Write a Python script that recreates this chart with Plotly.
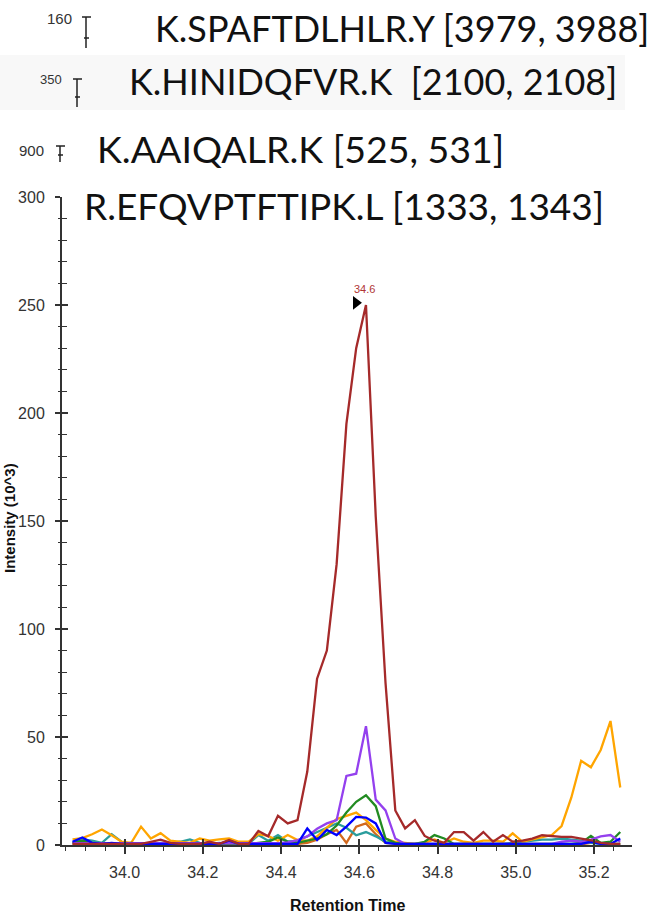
import plotly.graph_objects as go

# Retention times (min) shared by all transitions
rt = [33.867, 33.892, 33.917, 33.942, 33.967, 33.992, 34.017, 34.042, 34.067, 34.092,
      34.117, 34.142, 34.167, 34.192, 34.217, 34.242, 34.267, 34.292, 34.317, 34.342,
      34.367, 34.392, 34.417, 34.442, 34.467, 34.492, 34.517, 34.542, 34.567, 34.592,
      34.617, 34.642, 34.667, 34.692, 34.717, 34.742, 34.767, 34.792, 34.817, 34.842,
      34.867, 34.892, 34.917, 34.942, 34.967, 34.992, 35.017, 35.042, 35.067, 35.092,
      35.117, 35.142, 35.167, 35.192, 35.217, 35.242, 35.267]

# Transition intensities (10^3)
brown = [0.5, 0.5, 0.5, 0.5, 0.5, 0.5, 0.5, 0.5, 1.5, 2.5,
         1, 0.5, 0.5, 0.5, 1.5, 0.5, 2.3, 0.5, 0.5, 6.5,
         4, 13.5, 10, 11.5, 34, 77, 90, 130, 195, 230,
         250, 152, 75, 16, 7.7, 11.5, 4.2, 2, 1, 6,
         6, 2, 6, 1.5, 4.6, 1.5, 2, 3, 4.5, 4,
         3.8, 3.8, 3, 2.2, 1, 0.5, 0.5]
orange = [2.6, 3.2, 5, 7.2, 4.5, 1.5, 1, 8.5, 3, 5.5,
          2, 1.5, 1, 3, 2, 2.6, 3, 1.5, 1.5, 5,
          4.2, 2, 4.6, 2.3, 2, 4, 8, 12, 13.5, 15,
          11.5, 7, 3, 1.5, 1, 0.5, 1, 2.6, 1, 3,
          1.5, 1, 2, 2, 1.5, 5.4, 1.5, 2.6, 3.5, 4.6,
          8.8, 22, 39, 36, 44, 57.4, 26.6]
green = [1, 2, 1, 0.5, 0.5, 0.5, 1, 0.5, 0.5, 0.5,
         0.5, 0.5, 0.5, 0.5, 0.5, 0.5, 0.5, 0.5, 0.5, 1,
         1.5, 3.5, 1.5, 1, 2, 3, 5, 9, 15, 20,
         23, 18, 3, 1, 0.5, 0.5, 1.5, 4.6, 3, 0.5,
         0.5, 0.5, 0.5, 0.5, 0.5, 0.5, 0.5, 0.5, 0.5, 0.5,
         0.5, 0.5, 1, 4.2, 1, 1.5, 6]
teal = [1, 2.6, 2, 1, 5, 1.5, 0.5, 0.5, 0.5, 1,
        1, 1.5, 2.6, 1, 0.5, 1, 0.5, 0.5, 0.5, 4.6,
        2, 4.6, 1.5, 2, 4, 6, 8, 10, 8, 4.5,
        6, 4, 1.5, 1, 0.5, 0.5, 0.5, 0.5, 0.5, 0.5,
        0.5, 0.5, 0.5, 0.5, 0.5, 1, 1.5, 2, 2.5, 2.5,
        3, 2.5, 2, 1, 0.5, 0.5, 0.5]
chocolate = [0.3, 0.3, 0.3, 0.3, 0.3, 0.3, 0.3, 0.3, 0.3, 0.3,
             0.3, 0.3, 0.3, 0.3, 0.3, 0.3, 0.3, 0.3, 0.3, 0.3,
             0.3, 0.3, 0.3, 0.5, 1, 2.5, 5, 7, 1, 8.5,
             10, 5, 1, 0.5, 0.3, 0.3, 0.3, 0.3, 0.3, 0.3,
             0.3, 0.3, 0.3, 0.3, 0.3, 0.3, 0.3, 0.3, 0.3, 0.3,
             0.3, 0.3, 0.3, 1, 1, 0.5, 0.5]
blue = [1.5, 3.5, 1, 0.5, 1, 0.5, 0.5, 0.5, 0.5, 0.5,
        0.5, 0.5, 0.5, 0.5, 0.5, 0.5, 2, 0.5, 0.5, 0.5,
        0.5, 0.5, 0.5, 0.5, 7.7, 2.3, 7, 4.6, 8.5, 13,
        12.7, 10, 1, 0.5, 0.5, 0.5, 0.5, 0.5, 0.5, 0.5,
        0.5, 0.5, 0.5, 0.5, 0.5, 0.5, 0.5, 0.5, 0.5, 0.5,
        0.5, 0.5, 0.5, 1.5, 0.5, 0.5, 3]
purple = [0.8, 0.8, 0.8, 0.8, 0.8, 0.8, 0.8, 0.8, 0.8, 0.8,
          0.8, 0.8, 0.8, 0.8, 0.8, 0.8, 0.8, 0.8, 0.8, 0.8,
          0.8, 0.8, 1.2, 2.3, 4, 7.5, 10, 11.5, 32, 33,
          55, 21, 16, 3, 0.5, 0.5, 0.5, 0.5, 0.5, 0.5,
          0.5, 0.5, 0.5, 0.5, 0.5, 0.5, 0.5, 0.5, 0.5, 0.5,
          1.5, 2, 1.5, 2.5, 4, 4.6, 1.5]

series = [
    (chocolate, "#d2691e"),
    (teal, "#2a9d9d"),
    (orange, "#ffa500"),
    (green, "#228b22"),
    (purple, "#9440ee"),
    (blue, "#0000ff"),
    (brown, "#a52a2a"),
]

# Peptide labels stacked above the chromatogram, with the top tick of each panel
peptides = ["K.SPAFTDLHLR.Y [3979, 3988]",
            "K.HINIDQFVR.K\u00a0\u00a0[2100, 2108]",
            "K.AAIQALR.K [525, 531]",
            "R.EFQVPTFTIPK.L [1333, 1343]"]
panel_max = ["160", "350", "900"]

W, H = 659, 916
L, R, T, B = 62, 27, 197, 71
PW, PH = W - L - R, H - T - B
X_RANGE = [33.84, 35.297]
Y_RANGE = [0, 300]


def px(x):
    return (x - L) / PW


def py(y):
    return (H - B - y) / PH


fig = go.Figure()
for vals, col in series:
    fig.add_trace(go.Scatter(x=rt, y=vals, mode="lines",
                             line=dict(color=col, width=2.3),
                             hoverinfo="skip", showlegend=False))

# Apex marker and retention-time label of the most intense transition
i_pk = brown.index(max(brown))
dx = 10 * (X_RANGE[1] - X_RANGE[0]) / PW
fig.add_trace(go.Scatter(x=[rt[i_pk] - dx], y=[brown[i_pk] + 1], mode="markers",
                         marker=dict(symbol="triangle-right", size=12, color="black"),
                         xaxis="x2", yaxis="y2", hoverinfo="skip", showlegend=False))
fig.add_annotation(x=rt[i_pk], y=brown[i_pk], text=f"{rt[i_pk]:.1f}", showarrow=False,
                   yshift=16, xshift=-1, font=dict(family="Liberation Sans, Arial, sans-serif",
                                                   size=11, color="#b03535"))

tick_font = dict(family="Liberation Sans, Arial, sans-serif", size=16, color="#333")

fig.update_layout(
    width=W, height=H,
    margin=dict(l=L, r=R, t=T, b=B),
    paper_bgcolor="white", plot_bgcolor="white",
    xaxis=dict(range=X_RANGE, showgrid=False, zeroline=False,
               showline=True, linecolor="#333", linewidth=2,
               tick0=34.0, dtick=0.2, tickformat=".1f",
               ticks="outside", ticklen=7, tickwidth=1.5, tickcolor="#333",
               minor=dict(tick0=34.0, dtick=0.05, ticks="outside", ticklen=4,
                          tickwidth=1.2, tickcolor="#333"),
               tickfont=tick_font, ticklabelstandoff=5),
    yaxis=dict(range=Y_RANGE, showgrid=False, zeroline=False,
               showline=True, linecolor="#333", linewidth=2,
               tick0=0, dtick=50,
               ticks="outside", ticklen=5, tickwidth=1.5, tickcolor="#333",
               minor=dict(dtick=10, ticks="outside", ticklen=2, tickwidth=1.2,
                          tickcolor="#333"),
               tickfont=tick_font, ticklabelstandoff=7),
    xaxis2=dict(range=X_RANGE, overlaying="x", anchor="y2", side="bottom",
                showgrid=False, zeroline=False, showline=False,
                tick0=34.0, dtick=0.2, ticks="inside", ticklen=6, tickwidth=1.5,
                tickcolor="#333", showticklabels=False),
    yaxis2=dict(range=Y_RANGE, overlaying="y", anchor="x2", side="left",
                showgrid=False, zeroline=False, showline=False,
                tick0=0, dtick=50, ticks="inside", ticklen=6, tickwidth=1.5,
                tickcolor="#333", showticklabels=False,
                minor=dict(dtick=10, ticks="inside", ticklen=5, tickwidth=1.2,
                           tickcolor="#333")),
)

# Axis titles
fig.add_annotation(xref="paper", yref="paper", x=0.5, y=py(905), text="<b>Retention Time</b>",
                   showarrow=False, yanchor="middle",
                   font=dict(family="Liberation Sans, Arial, sans-serif", size=16, color="#111"))
fig.add_annotation(xref="paper", yref="paper", x=px(9), y=py(518), text="<b>Intensity (10^3)</b>",
                   showarrow=False, textangle=-90, xanchor="center", yanchor="middle",
                   font=dict(family="Liberation Sans, Arial, sans-serif", size=15, color="#111"))

# Faint band behind the second label row
fig.add_shape(type="rect", xref="paper", yref="paper", x0=px(0), x1=px(625), y0=py(55), y1=py(110),
              fillcolor="#f8f8f8", line=dict(width=0), layer="below")

# Peptide labels
label_pos = [(153, 28, 36), (127, 81, 36), (95, 149, 37.5), (82, 205, 37)]
for txt, (lx, ly, fs) in zip(peptides, label_pos):
    fig.add_annotation(xref="paper", yref="paper", x=px(lx), y=py(ly), text=txt,
                       showarrow=False, xanchor="left", yanchor="middle",
                       font=dict(family="Lato, Carlito, sans-serif", size=fs, color="#111"))

# Top ticks of the stacked panels
panel_axes = [  # (label right edge, label y, axis x, top y, bottom y, minor y, font size)
    (74, 18, 86, 17, 48, 38, 15),
    (64, 80, 77, 79, 107, 97, 13),
    (46, 150, 60, 146, 162, 155, 15),
]
for lab, (rx, ly, ax, y0, y1, ym, fs) in zip(panel_max, panel_axes):
    fig.add_annotation(xref="paper", yref="paper", x=px(rx), y=py(ly), text=lab,
                       showarrow=False, xanchor="right", yanchor="middle",
                       font=dict(family="Liberation Sans, Arial, sans-serif", size=fs, color="#333"))
    for (xa, ya, xb, yb) in [(ax, y0, ax, y1), (ax - 4, y0, ax + 5, y0), (ax - 2, ym, ax + 3, ym)]:
        fig.add_shape(type="line", xref="paper", yref="paper",
                      x0=px(xa), y0=py(ya), x1=px(xb), y1=py(yb),
                      line=dict(color="#222", width=1.5))

fig.write_html("out.html")
